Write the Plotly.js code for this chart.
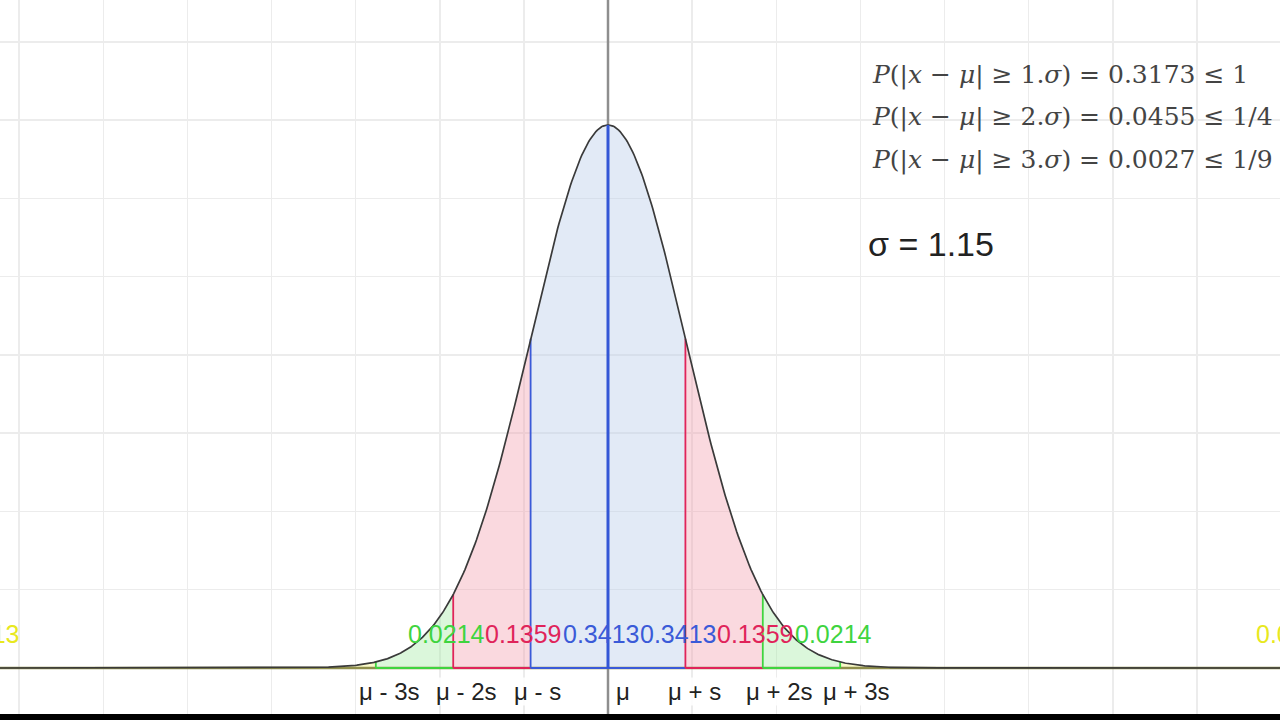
<!DOCTYPE html>
<html>
<head>
<meta charset="utf-8">
<script src="https://cdn.plot.ly/plotly-3.0.1.min.js"></script>
<style>html,body{margin:0;padding:0;background:#000;}#chart{width:1280px;height:720px;}</style>
</head>
<body>
<div id="chart"></div>
<script>
// ---- data ----
const mu = 0;
const sigma = 1.15;
const bandSteps = [-3, -2, -1, 0, 1, 2, 3];
const bandLabels = ['μ - 3s', 'μ - 2s', 'μ - s', 'μ', 'μ + s', 'μ + 2s', 'μ + 3s'];
const regionStart = [-3, -2, -1, 0, 1, 2];   // in sigma units
const regionEnd   = [-2, -1, 0, 1, 2, 3];
const regionProb  = ['0.0214', '0.1359', '0.3413', '0.3413', '0.1359', '0.0214'];
const tailProb = '0.0013';
const ineqK = [1, 2, 3];
const ineqP = ['0.3173', '0.0455', '0.0027'];
const ineqBound = ['1', '1/4', '1/9'];

// ---- styling ----
const fillCol = {g: 'rgba(160,235,160,0.38)', r: 'rgba(240,150,165,0.36)', b: 'rgba(190,208,235,0.45)', y: 'rgba(240,240,80,0.3)'};
const lineCol = {g: '#3fd43f', r: '#e0245a', b: '#3a5ad8', y: '#e6e630'};
const regionKey = ['g', 'r', 'b', 'b', 'r', 'g'];
// colour of the vertical boundary line drawn at each sigma step
const boundaryKey = ['g', 'r', 'b', null, 'r', 'g', 'g'];

const pxPerX = 67.3;     // pixels per x unit
const pxPerY = 1565.3;   // pixels per y unit
const xRange = [-608 / pxPerX, 672 / pxPerX];
const yRange = [-46 / pxPerY, 668 / pxPerY];

function pdf(x) {
  const z = (x - mu) / sigma;
  return Math.exp(-0.5 * z * z) / (sigma * Math.sqrt(2 * Math.PI));
}
function curvePts(a, b, n) {
  const xs = [], ys = [];
  for (let i = 0; i <= n; i++) { const x = a + (b - a) * i / n; xs.push(x); ys.push(pdf(x)); }
  return [xs, ys];
}
function fillTrace(a, b, key) {
  const [cx, cy] = curvePts(a, b, 80);
  return {
    x: [a].concat(cx, [b, a]), y: [0].concat(cy, [0, 0]),
    mode: 'lines', fill: 'toself', fillcolor: fillCol[key],
    line: {width: 0, color: 'rgba(0,0,0,0)'}, hoverinfo: 'skip', type: 'scatter'
  };
}
function seg(x0, y0, x1, y1, color, width) {
  return {x: [x0, x1], y: [y0, y1], mode: 'lines', line: {color: color, width: width}, hoverinfo: 'skip', type: 'scatter'};
}

const traces = [];
// fills
traces.push(fillTrace(xRange[0], mu - 3 * sigma, 'y'));
traces.push(fillTrace(mu + 3 * sigma, xRange[1], 'y'));
regionStart.forEach((s, i) => traces.push(fillTrace(mu + s * sigma, mu + regionEnd[i] * sigma, regionKey[i])));
// y-axis
traces.push(seg(mu, pdf(mu), mu, yRange[1], '#8e8e8e', 2.5));
traces.push(seg(mu, yRange[0], mu, 0, '#8e8e8e', 2.5));
// baseline (yellow tails over axis)
traces.push(seg(xRange[0], 0, xRange[1], 0, '#8f8f4c', 2.5));
// bottom edges of regions
regionStart.forEach((s, i) => traces.push(seg(mu + s * sigma, 0, mu + regionEnd[i] * sigma, 0, lineCol[regionKey[i]], 2)));
// vertical boundaries
bandSteps.forEach((k, i) => {
  if (!boundaryKey[i]) return;
  const x = mu + k * sigma;
  traces.push(seg(x, 0, x, pdf(x), lineCol[boundaryKey[i]], 1.8));
});
// density curve
const [fx, fy] = curvePts(xRange[0], xRange[1], 900);
traces.push({x: fx, y: fy, mode: 'lines', line: {color: '#3a3a3a', width: 1.7}, hoverinfo: 'skip'});
// centre line
traces.push(seg(mu, 0, mu, pdf(mu), '#3356d6', 3));

const annotations = [];
const labFont = {family: 'Liberation Sans, Arial, sans-serif', size: 25};
const probY = 34 / pxPerY;
regionStart.forEach((s, i) => {
  annotations.push({x: mu + s * sigma + 31 / pxPerX, y: probY, xref: 'x', yref: 'y', xanchor: 'left', yanchor: 'middle',
    text: regionProb[i], showarrow: false, font: Object.assign({color: lineCol[regionKey[i]]}, labFont), borderpad: 0});
});
annotations.push({x: (20 - 608) / pxPerX, y: probY, xref: 'x', yref: 'y', xanchor: 'right', yanchor: 'middle',
  text: tailProb, showarrow: false, font: Object.assign({color: '#e8e820'}, labFont), borderpad: 0});
annotations.push({x: (1255 - 608) / pxPerX, y: probY, xref: 'x', yref: 'y', xanchor: 'left', yanchor: 'middle',
  text: tailProb, showarrow: false, font: Object.assign({color: '#e8e820'}, labFont), borderpad: 0});

bandSteps.forEach((k, i) => {
  const off = (k === 0 ? 7 : -18) / pxPerX;
  annotations.push({x: mu + k * sigma + off, y: -23 / pxPerY, xref: 'x', yref: 'y', xanchor: 'left', yanchor: 'middle',
    text: bandLabels[i], showarrow: false, bgcolor: 'rgba(255,255,255,0.9)', borderpad: 0,
    font: {family: 'Liberation Sans, Arial, sans-serif', size: 24, color: '#222'}});
});

const ineqY = [75, 117, 160];
ineqK.forEach((k, i) => {
  annotations.push({x: 870 / 1280, y: (714 - ineqY[i]) / 714, xref: 'paper', yref: 'paper', xanchor: 'left', yanchor: 'middle',
    text: '<i>P</i>(|<i>x</i> − <i>μ</i>| ≥ ' + k + '.<i>σ</i>) = ' + ineqP[i] + ' ≤ ' + ineqBound[i],
    showarrow: false, font: {family: 'DejaVu Serif, Liberation Serif, serif', size: 25, color: '#444'}});
});
annotations.push({x: 866 / 1280, y: (714 - 244) / 714, xref: 'paper', yref: 'paper', xanchor: 'left', yanchor: 'middle',
  text: 'σ = ' + sigma.toFixed(2), showarrow: false,
  font: {family: 'Liberation Sans, Arial, sans-serif', size: 34, color: '#222'}});

const layout = {
  width: 1280, height: 720,
  margin: {l: 0, r: 0, t: 0, b: 6, pad: 0},
  paper_bgcolor: '#000', plot_bgcolor: '#fff',
  showlegend: false, hovermode: false,
  xaxis: {range: xRange, tick0: 0, dtick: 1.25, showgrid: true, gridcolor: '#ececec', gridwidth: 1.5,
    zeroline: false, showticklabels: false, ticks: '', fixedrange: true},
  yaxis: {range: yRange, tick0: 0, dtick: 0.05, showgrid: true, gridcolor: '#ececec', gridwidth: 1.5,
    zeroline: false, showticklabels: false, ticks: '', fixedrange: true},
  annotations: annotations
};

Plotly.newPlot('chart', traces, layout, {displayModeBar: false, staticPlot: true});
</script>
</body>
</html>
